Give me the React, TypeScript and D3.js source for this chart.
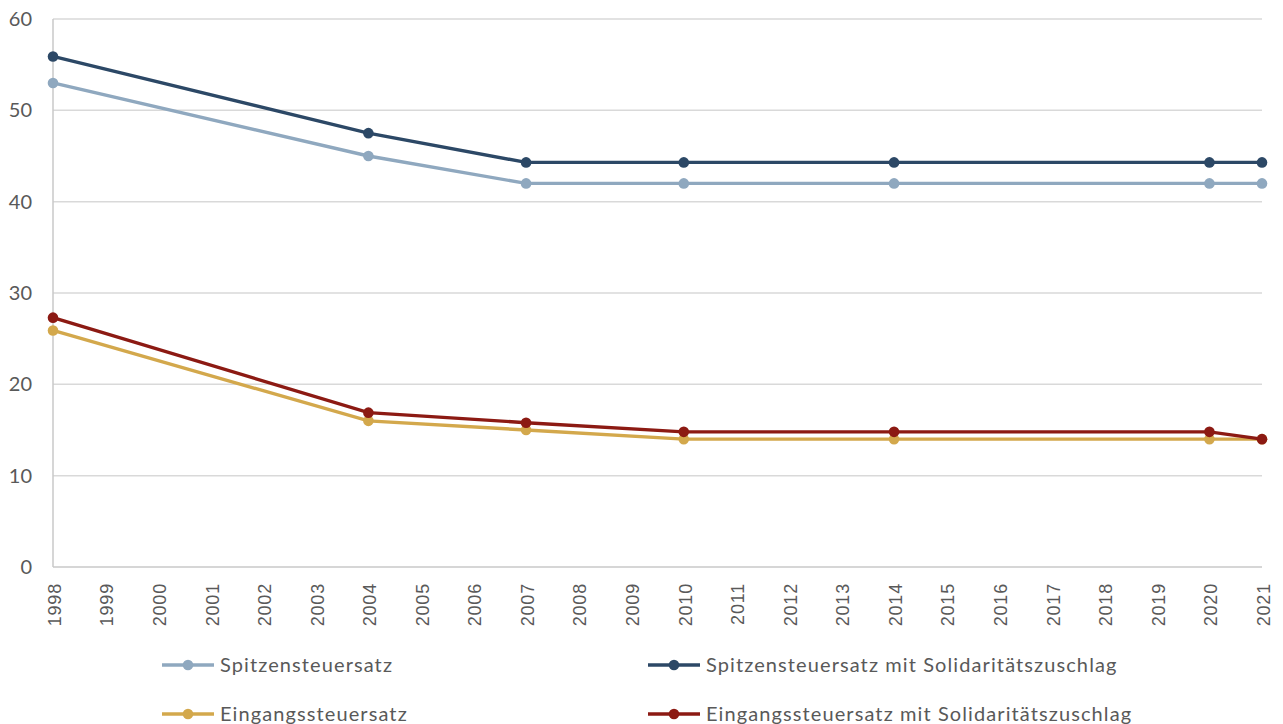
import React from 'react';
import * as d3 from 'd3';

// data
const years = [1998, 2004, 2007, 2010, 2014, 2020, 2021];
const spitzen = [53.0, 45.0, 42.0, 42.0, 42.0, 42.0, 42.0];
const spitzenSoli = [55.9, 47.5, 44.3, 44.3, 44.3, 44.3, 44.3];
const eingang = [25.9, 16.0, 15.0, 14.0, 14.0, 14.0, 14.0];
const eingangSoli = [27.3, 16.9, 15.8, 14.8, 14.8, 14.8, 14.0];
const yTicks = [0, 10, 20, 30, 40, 50, 60];
const xTicks = d3.range(1998, 2022);

const series = [
  { name: 'Spitzensteuersatz', values: spitzen, color: '#8fa8bf' },
  { name: 'Spitzensteuersatz mit Solidaritätszuschlag', values: spitzenSoli, color: '#2c4866' },
  { name: 'Eingangssteuersatz', values: eingang, color: '#d3a84c' },
  { name: 'Eingangssteuersatz mit Solidaritätszuschlag', values: eingangSoli, color: '#8c1a13' },
];

export default function App() {
  const W = 1283, H = 724;
  const x = d3.scaleLinear().domain([1998, 2021]).range([53, 1262]);
  const y = d3.scaleLinear().domain([0, 60]).range([567, 19]);
  const line = d3.line<number>()
    .x((d, i) => x(years[i]))
    .y(d => y(d));

  const legendPos = [
    [162, 665], [648, 665], [162, 714], [648, 714],
  ];

  return (
    <svg width={W} height={H} style={{ position: 'absolute', left: 0, top: 0, background: '#fff' }}>
      {/* grid */}
      {yTicks.map(t => (
        <line key={t} x1={x(1998)} x2={x(2021)} y1={y(t)} y2={y(t)}
          stroke={t === 0 ? '#c8c8c8' : '#d9d9d9'} strokeWidth={1.5} />
      ))}
      <line x1={x(1998)} x2={x(1998)} y1={y(0)} y2={y(60)} stroke="#c8c8c8" strokeWidth={1.5} />
      {/* y labels */}
      {yTicks.map(t => (
        <text key={t} x={32} y={y(t)} dy="0.35em" textAnchor="end"
          fontFamily="Lato, 'Open Sans', sans-serif" fontSize={20} fill="#595959">{t}</text>
      ))}
      {/* x labels */}
      {xTicks.map(t => (
        <text key={t} transform={`translate(${x(t) + 1.5},583) rotate(-90)`} dy="0.35em" textAnchor="end"
          fontFamily="'Liberation Sans', Arial, sans-serif" fontSize={18} letterSpacing={0.8} fill="#595959">{t}</text>
      ))}
      {/* lines */}
      {series.map(s => (
        <g key={s.name}>
          <path d={line(s.values) || ''} fill="none" stroke={s.color} strokeWidth={3.4} />
          {s.values.map((v, i) => (
            <circle key={i} cx={x(years[i])} cy={y(v)} r={5.3} fill={s.color} />
          ))}
        </g>
      ))}
      {/* legend */}
      {series.map((s, i) => {
        const [lx, ly] = legendPos[i];
        return (
          <g key={s.name} transform={`translate(${lx},${ly})`}>
            <line x1={0} x2={52} y1={0} y2={0} stroke={s.color} strokeWidth={3.4} />
            <circle cx={26} cy={0} r={5.3} fill={s.color} />
            <text x={58} y={0} dy="0.35em" fontFamily="Lato, 'Open Sans', sans-serif"
              fontSize={20} fill="#595959" letterSpacing={1.1}>{s.name}</text>
          </g>
        );
      })}
    </svg>
  );
}
